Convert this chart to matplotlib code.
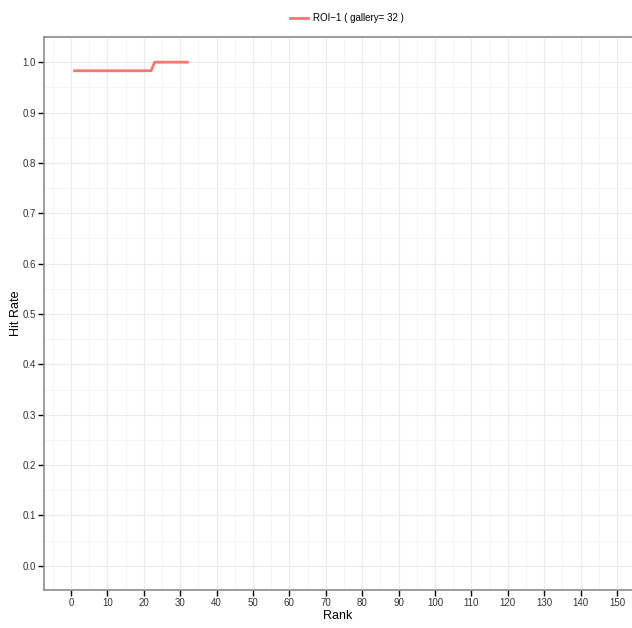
import matplotlib
matplotlib.use("Agg")
import matplotlib.pyplot as plt
from matplotlib.ticker import MultipleLocator

plt.rcParams['font.family'] = ['Liberation Sans', 'DejaVu Sans']

rank = list(range(1, 33))
hit_rate = [0.983] * 22 + [1.0] * 10
label = "ROI\u22121 ( gallery= 32 )"

fig = plt.figure(figsize=(6.32, 6.28), dpi=100)
ax = fig.add_axes([44 / 632, 38 / 628, 1 - 44 / 632, (590 - 37) / 628])

ax.plot(rank, hit_rate, color="#F8766D", lw=2, label=label)

ax.set_xlim(-7.4, 154.1)
ax.set_ylim(-0.048, 1.05)
ax.xaxis.set_major_locator(MultipleLocator(10))
ax.xaxis.set_minor_locator(MultipleLocator(5))
ax.yaxis.set_major_locator(MultipleLocator(0.1))
ax.yaxis.set_minor_locator(MultipleLocator(0.05))
ax.yaxis.set_major_formatter(matplotlib.ticker.FormatStrFormatter("%.1f"))

ax.grid(which="major", color="#ebebeb", lw=0.8)
ax.grid(which="minor", color="#f4f4f4", lw=0.6)
ax.set_axisbelow(True)

for s in ["left", "bottom", "top"]:
    ax.spines[s].set_color("#8c8c8c")
    ax.spines[s].set_linewidth(1.2)
ax.spines["right"].set_visible(False)

ax.tick_params(which="major", direction="out", length=4, width=1, color="black",
               labelsize=7, labelcolor="#333333", pad=2)
ax.tick_params(which="minor", length=0)

ax.set_xlabel("Rank", fontsize=9, labelpad=1)
ax.set_ylabel("Hit Rate", fontsize=9, labelpad=0)

fig.legend(loc="center", bbox_to_anchor=(347 / 632, 1 - 18 / 628), frameon=False,
           fontsize=7, handlelength=1.8, handletextpad=0.5)

fig.savefig("out.png", dpi=100)
